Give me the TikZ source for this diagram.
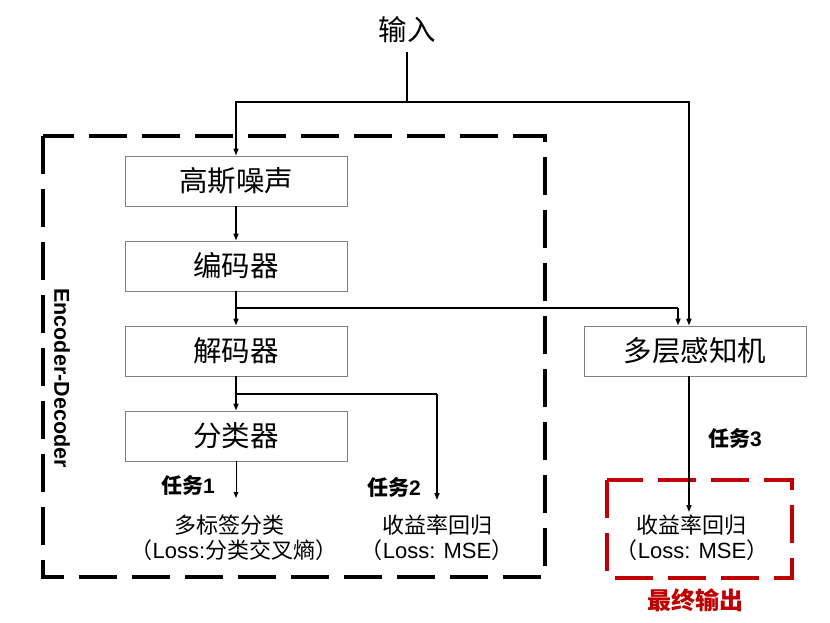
\documentclass[tikz,border=0pt]{standalone}
\usepackage{fontspec}
\setmainfont{Liberation Sans}
\newfontfamily\cjk{Noto Sans CJK SC}
\newfontfamily\lat{Liberation Sans}
\usetikzlibrary{arrows.meta}
\definecolor{boxgray}{RGB}{128,128,128}
\definecolor{darkred}{RGB}{192,0,0}
\begin{document}
\begin{tikzpicture}[x=1pt,y=-1pt,
  box/.style={draw=boxgray, line width=0.9pt, minimum width=222pt, minimum height=50pt, inner sep=0pt, font=\cjk\fontsize{28.5}{28.5}\selectfont},
  conn/.style={line width=1.5pt},
  arr/.style={conn, -{Triangle[length=7pt,width=5pt]}},
  thinarr/.style={line width=1pt, -{Triangle[length=6pt,width=4.5pt]}},
  lbl/.style={font=\cjk\fontsize{22}{22}\selectfont, inner sep=0pt},
  task/.style={font=\cjk\bfseries\fontsize{21}{21}\selectfont, inner sep=0pt},
  dashbox/.style={line width=4pt, dash pattern=on 38pt off 15pt}
]
\useasboundingbox (0,0) rectangle (830,622);

% big dashed frame
\draw[dashbox] (43,136) rectangle (545,577);
\draw[dashbox, darkred] (607,480) rectangle (792,578);

\node[font=\cjk\fontsize{28.5}{28.5}\selectfont, inner sep=0pt] (in) at (407,30) {输入};
\node[box] (gauss) at (236,181) {高斯噪声};
\node[box] (enc) at (236,266) {编码器};
\node[box] (dec) at (236,351) {解码器};
\node[box] (cls) at (236,436) {分类器};
\node[box] (mlp) at (695,351) {多层感知机};

\node[rotate=-90, font=\bfseries\fontsize{21.5}{21.5}\selectfont, inner sep=0pt] (edlabel) at (62,378) {Encoder-Decoder};

\coordinate (s0) at (407,52);
\coordinate (j0) at (407,102);
\coordinate (jr) at (689,102);
\coordinate (j1) at (236,308);
\coordinate (j1r) at (678,308);
\coordinate (j2) at (236,394);
\coordinate (j2r) at (437,394);
\coordinate (t1end) at (236,498);
\coordinate (t2end) at (437,500);
\coordinate (t3end) at (689,512);

\draw[conn] (s0) -- (j0);
\draw[arr] (j0) -| (gauss.north);
\draw[arr] (j0) -- (jr) -- (jr |- mlp.north);
\draw[arr] (gauss) -- (enc);
\draw[arr] (enc) -- (dec);
\draw[conn] (j1) -- (j1r);
\draw[arr] (j1r) -- (j1r |- mlp.north);
\draw[arr] (dec) -- (cls);
\draw[conn] (j2) -- (j2r);
\draw[arr] (j2r) -- (t2end);
\draw[thinarr] (cls.south) -- (t1end);
\draw[arr] (jr |- mlp.south) -- (t3end);

\node[task] (t1) at (188,485) {任务\lat 1};
\node[task] (t2) at (394,487) {任务\lat 2};
\node[task] (t3) at (735,438) {任务\lat 3};

\node[lbl] (o1a) at (229,525) {多标签分类};
\node[lbl] (o1b) at (234,550) {（{\lat Loss:}分类交叉熵）};
\node[lbl] (o2a) at (437,525) {收益率回归};
\node[lbl] (o2b) at (437,550) {（{\lat Loss: MSE}）};
\node[lbl] (o3a) at (691,525) {收益率回归};
\node[lbl] (o3b) at (692,550) {（{\lat Loss: MSE}）};
\node[font=\cjk\bfseries\fontsize{24}{24}\selectfont, text=darkred, inner sep=0pt] (final) at (695,600) {最终输出};
\end{tikzpicture}
\end{document}
